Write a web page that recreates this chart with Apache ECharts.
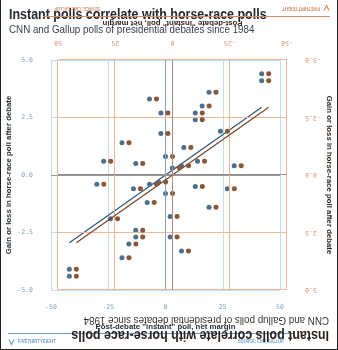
<!DOCTYPE html>
<html><head><meta charset="utf-8">
<script src="https://cdn.jsdelivr.net/npm/echarts@6/dist/echarts.min.js"></script>
<style>
html,body{margin:0;padding:0;background:#fff;}
#wrap{position:relative;width:338px;height:350px;overflow:hidden;background:#fff;}
.c{position:absolute;left:0;top:0;width:338px;height:350px;}
#c2{transform:rotate(180deg);}
#frame{position:absolute;left:0;top:0;width:338px;height:350px;box-sizing:border-box;border:1px solid #222;border-top:none;pointer-events:none;}
</style></head><body>
<div id="wrap"><div id="c1" class="c"></div><div id="c2" class="c"></div><div id="frame"></div></div>
<script>
const titleText = 'Instant polls correlate with horse-race polls';
const subtitleText = 'CNN and Gallup polls of presidential debates since 1984';
const xAxisName = 'Post-debate "instant" poll, net margin';
const yAxisName = 'Gain or loss in horse-race poll after debate';
const sourceText = 'SOURCE: CNN, GALLUP';
const brandText = 'FIVETHIRTYEIGHT';
const xTicks = [-50, -25, 0, 25, 50];
const yTicks = [-5, -2.5, 0, 2.5, 5];
const instantMargin = [42, 42, 19, -7, 16, -2, 13, 13, 24, -2, -19, 8, -27, -13, 0, 14, 30, 3, 7,
                       -42, -42, -19, 7, -16, 2, -13, -13, -24, 2, 19, -8, 27, 13, 0, -14, -30, -3, -7];
const pollChange = [4.4, 4.1, 3.6, 3.3, 3.0, 2.7, 2.7, 2.4, 1.9, 1.8, 1.4, 1.2, 0.6, 0.5, 0.8, 0.6, 0.4, 0.3, 0.4,
                    -4.4, -4.1, -3.6, -3.3, -3.0, -2.7, -2.7, -2.4, -1.9, -1.8, -1.4, -1.2, -0.6, -0.5, -0.8, -0.6, -0.4, -0.3, -0.4];
const trendX = [-42, 42];
const trendY = [-2.95, 2.95];

const blue = {grid:'#c6dcf2', zero:'#86a4c2', hzero:'#8f9aa6', tick:'#7c9fc2', dot:'#4d6f8c', line:'#2e5676',
  title:'#24292f', sub:'#39414b', axisName:'#27313c', footer:'#6a9fd4'};
const orange = {grid:'#f3b69b', zero:'#b38a78', hzero:'#9e8a80', tick:'#dc9070', dot:'#8b5538', line:'#7a4327',
  title:'#2b221d', sub:'#3f342d', axisName:'#34271f', footer:'#d98a68'};

function makeOption(p) {
  const pts = instantMargin.map((x, i) => [x, pollChange[i]]);
  const trend = trendX.map((x, i) => [x, trendY[i]]);
  const xmin = xTicks[0], xmax = xTicks[xTicks.length - 1];
  const ymin = yTicks[0], ymax = yTicks[yTicks.length - 1];
  const tickLbl = {color:p.tick, fontFamily:'DejaVu Sans Mono', fontSize:6.5};
  const sx = 0.89;
  return {
    animation:false,
    backgroundColor:'transparent',
    grid:{left:51, right:58, top:60, bottom:60, containLabel:false, outerBoundsMode:'none'},
    xAxis:[
      {type:'value', min:xmin, max:xmax, interval:25, position:'bottom',
        axisLine:{show:false},
        axisTick:{show:true, length:12, lineStyle:{color:p.grid}},
        axisLabel:Object.assign({margin:14}, tickLbl),
        splitLine:{show:true, lineStyle:{color:p.grid, width:1}},
        name:xAxisName, nameLocation:'middle', nameGap:33, nameMoveOverlap:false,
        nameTextStyle:{color:p.axisName, fontFamily:'Liberation Sans', fontWeight:'bold', fontSize:7.8}},
      {type:'value', min:xmin, max:xmax, interval:25, position:'top',
        axisLine:{show:false}, axisTick:{show:true, length:12, lineStyle:{color:p.grid}},
        axisLabel:{show:false}, splitLine:{show:false}}
    ],
    yAxis:[
      {type:'value', min:ymin, max:ymax, interval:2.5, position:'left',
        axisLine:{show:false},
        axisTick:{show:true, length:12, lineStyle:{color:p.grid}},
        axisLabel:Object.assign({margin:18, formatter:v => v.toFixed(1)}, tickLbl),
        splitLine:{show:true, lineStyle:{color:p.grid, width:1}},
        name:yAxisName, nameLocation:'middle', nameGap:38, nameRotate:90, nameMoveOverlap:false,
        nameTextStyle:{color:p.axisName, fontFamily:'Liberation Sans', fontWeight:'bold', fontSize:7.8}},
      {type:'value', min:ymin, max:ymax, interval:2.5, position:'right',
        axisLine:{show:false}, axisTick:{show:true, length:12, lineStyle:{color:p.grid}},
        axisLabel:{show:false}, splitLine:{show:false}}
    ],
    series:[
      {type:'scatter', data:pts, symbolSize:5, itemStyle:{color:p.dot, opacity:1}, z:4,
        markLine:{silent:true, symbol:'none', label:{show:false}, animation:false,
          data:[{xAxis:0, lineStyle:{color:p.zero, type:'solid', width:1}},
                {yAxis:0, lineStyle:{color:p.hzero, type:'solid', width:1}}]}},
      {type:'line', data:trend, showSymbol:false, lineStyle:{color:p.line, width:1.2}, z:3}
    ],
    graphic:[
      {type:'text', x:9, y:15, scaleX:sx, style:{text:titleText, font:'bold 14px "Liberation Sans"', fill:p.title, verticalAlign:'middle'}},
      {type:'text', x:9, y:30, scaleX:sx, style:{text:subtitleText, font:'11px "Liberation Sans"', fill:p.sub, verticalAlign:'middle'}},
      {type:'line', shape:{x1:8, y1:333.5, x2:295, y2:333.5}, style:{stroke:p.footer, lineWidth:1}},
      {type:'polyline', shape:{points:[[9,339.5],[11.5,344.5],[14,339.5]]}, style:{stroke:p.footer, lineWidth:1.2, fill:null}},
      {type:'text', x:18, y:342, scaleX:0.85, style:{text:brandText, font:'bold 5px "Liberation Sans"', fill:p.footer, verticalAlign:'middle'}},
      {type:'text', x:238, y:342, scaleX:0.78, style:{text:sourceText, font:'bold 5px "Liberation Sans"', fill:p.footer, verticalAlign:'middle'}}
    ]
  };
}
echarts.init(document.getElementById('c1')).setOption(makeOption(blue));
echarts.init(document.getElementById('c2')).setOption(makeOption(orange));
</script></body></html>
